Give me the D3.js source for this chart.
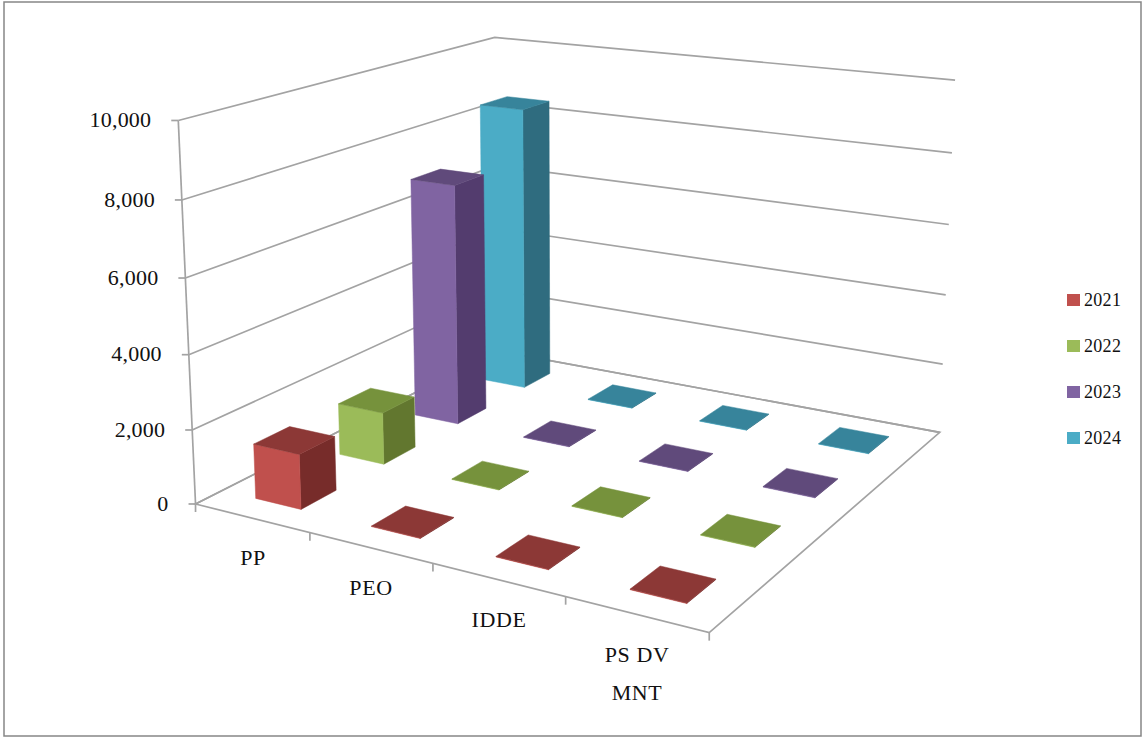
<!DOCTYPE html>
<html>
<head>
<meta charset="utf-8">
<script src="https://cdn.jsdelivr.net/npm/d3@7/dist/d3.min.js"></script>
<style>
html,body{margin:0;padding:0;background:#fff}
text{font-family:"Liberation Serif",serif;fill:#111}
</style>
</head>
<body>
<svg id="chart" width="1146" height="738"></svg>
<script>
// Chart data
const categories = ["PP", "PEO", "IDDE", "PS DV|MNT"];
const seriesNames = ["2021", "2022", "2023", "2024"];
const values2021 = [1480, 15, 15, 15];
const values2022 = [1450, 15, 15, 15];
const values2023 = [6950, 15, 15, 15];
const values2024 = [8450, 15, 15, 15];
const seriesValues = [values2021, values2022, values2023, values2024];
const valueTicks = [0, 2000, 4000, 6000, 8000, 10000];

// Face colours per series: front, top, side
const frontColors = ["#C0504D", "#9BBB59", "#8064A2", "#4BACC6"];
const topColors = ["#8C3836", "#76923C", "#604A7B", "#37849B"];
const sideColors = ["#772C2A", "#62772F", "#533C6E", "#2F6C7F"];

const svg = d3.select("#chart");

// Anchors of the 3D box on screen, used to fit the camera: [x, y, z] -> [px, py]
const cameraAnchors = [
  [[0,0,0],[196,505]], [[1,0,0],[709,632]], [[1,1,0],[940,433]], [[0,1,0],[497,350]],
  [[0,0,1],[178,120]], [[0,1,1],[495,38]], [[1,1,1],[955,80]]
];

// Least-squares fit of a 3x4 projective camera (last entry fixed at 1)
function fitCamera(anchors) {
  const rows = [], rhs = [];
  anchors.forEach(([[x,y,z],[u,v]]) => {
    rows.push([x,y,z,1,0,0,0,0,-u*x,-u*y,-u*z]); rhs.push(u);
    rows.push([0,0,0,0,x,y,z,1,-v*x,-v*y,-v*z]); rhs.push(v);
  });
  const n = 11;
  const M = d3.range(n).map(i => d3.range(n + 1).map(j =>
    j < n ? d3.sum(rows, r => r[i] * r[j]) : d3.sum(rows, (r, k) => r[i] * rhs[k])));
  for (let c = 0; c < n; c++) {
    let p = c;
    for (let r = c + 1; r < n; r++) if (Math.abs(M[r][c]) > Math.abs(M[p][c])) p = r;
    [M[c], M[p]] = [M[p], M[c]];
    for (let r = 0; r < n; r++) {
      if (r === c) continue;
      const f = M[r][c] / M[c][c];
      for (let k = c; k <= n; k++) M[r][k] -= f * M[c][k];
    }
  }
  return d3.range(n).map(i => M[i][n] / M[i][i]);
}
const cam = fitCamera(cameraAnchors);
function project(x, y, z) {
  const w = cam[8]*x + cam[9]*y + cam[10]*z + 1;
  return [(cam[0]*x + cam[1]*y + cam[2]*z + cam[3]) / w,
          (cam[4]*x + cam[5]*y + cam[6]*z + cam[7]) / w];
}

// Scales onto the unit box
const xBand = d3.scaleBand().domain(categories).range([0, 1]);
const xBar = d3.scaleBand().domain(categories).range([0, 1]).paddingInner(0.6).paddingOuter(0.3);
const yBand = d3.scaleBand().domain(seriesNames).range([0, 1]);
const yBar = d3.scaleBand().domain(seriesNames).range([0, 1]).paddingInner(0.59).paddingOuter(0.295);
const zScale = d3.scaleLinear().domain([0, 10000]).range([0, 1]);

const line = d3.line();
const poly = pts => line(pts) + "Z";

// Chart frame
svg.append("rect").attr("x", 4).attr("y", 2).attr("width", 1137).attr("height", 734)
  .attr("fill", "#fff").attr("stroke", "#868686").attr("stroke-width", 1.5);

// Walls and floor
const gridColor = "#A3A3A3";
const grid = svg.append("g").attr("fill", "none").attr("stroke", gridColor).attr("stroke-width", 1.7);
const tickLength = 7;
valueTicks.forEach(t => {
  const z = zScale(t);
  const origin = project(0,0,z);
  grid.append("path").attr("d", line([origin, project(0,1,z), project(1,1,z)]));
  grid.append("path").attr("d", line([origin, [origin[0] - tickLength, origin[1]]]));
});
grid.append("path").attr("d", line([project(0,0,0), project(0,0,1)]));
grid.append("path").attr("d", poly([project(0,0,0), project(1,0,0), project(1,1,0), project(0,1,0)]));
[0, ...categories.map(c => xBand(c) + xBand.bandwidth())].forEach(x => {
  const foot = project(x,0,0);
  grid.append("path").attr("d", line([foot, [foot[0], foot[1] + tickLength + 1]]));
});

// Bars, back row first so that nearer ones cover them
const bars = svg.append("g");
d3.range(seriesNames.length - 1, -1, -1).forEach(s => {
  categories.forEach((c, i) => {
    const x0 = xBar(c), x1 = x0 + xBar.bandwidth();
    const y0 = yBar(seriesNames[s]), y1 = y0 + yBar.bandwidth();
    const z = zScale(seriesValues[s][i]);
    const face = (pts, fill) => bars.append("path").attr("d", poly(pts.map(p => project(...p))))
      .attr("fill", fill).attr("stroke", fill).attr("stroke-width", 0.5);
    face([[x1,y0,0],[x1,y1,0],[x1,y1,z],[x1,y0,z]], sideColors[s]);
    face([[x0,y0,0],[x1,y0,0],[x1,y0,z],[x0,y0,z]], frontColors[s]);
    face([[x0,y0,z],[x1,y0,z],[x1,y1,z],[x0,y1,z]], topColors[s]);
  });
});

// Value labels follow the slanted axis
const labels = svg.append("g");
valueTicks.forEach(t => {
  const [px, py] = project(0, 0, zScale(t));
  labels.append("text").attr("x", px - 27).attr("y", py - 1).attr("dy", "0.35em")
    .attr("text-anchor", "end").attr("font-size", 22).attr("letter-spacing", 0.2)
    .text(d3.format(",")(t));
});

// Category labels under the front edge
const categoryLabelAnchors = [[253,565],[371,595],[499,627],[637,662]];
categories.forEach((c, i) => {
  c.split("|").forEach((part, k) => {
    labels.append("text").attr("x", categoryLabelAnchors[i][0]).attr("y", categoryLabelAnchors[i][1] + k * 38)
      .attr("text-anchor", "middle").attr("font-size", 22).attr("letter-spacing", 0.6)
      .text(part);
  });
});

// Legend
const legend = svg.append("g");
const legendY = d3.scalePoint().domain(seriesNames).range([300, 438]);
seriesNames.forEach((s, i) => {
  legend.append("rect").attr("x", 1067).attr("y", legendY(s) - 6).attr("width", 13).attr("height", 12)
    .attr("fill", frontColors[i]);
  legend.append("text").attr("x", 1084).attr("y", legendY(s)).attr("dy", "0.33em")
    .attr("font-size", 18).attr("letter-spacing", 0.3).text(s);
});
</script>
</body>
</html>
